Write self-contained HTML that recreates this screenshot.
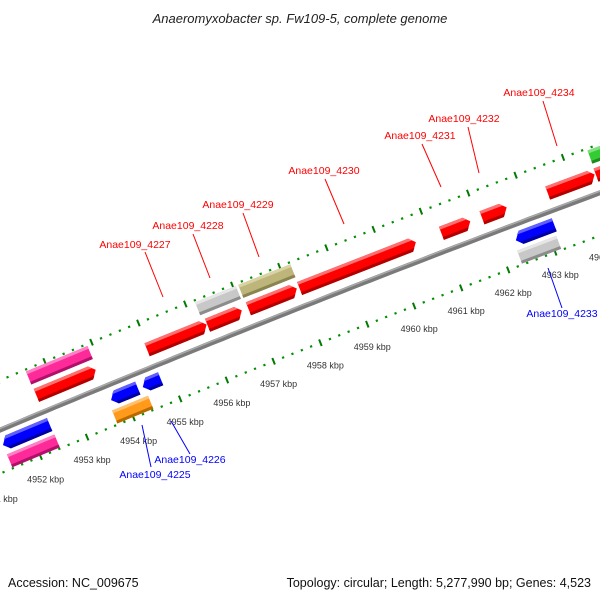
<!DOCTYPE html>
<html><head><meta charset="utf-8"><style>
body{margin:0;background:#fff}
svg{display:block;font-family:"Liberation Sans",sans-serif}
</style></head><body>
<svg id="chart" width="600" height="600" viewBox="0 0 600 600" xmlns="http://www.w3.org/2000/svg">
<rect width="600" height="600" fill="#fff"/>
<text x="300" y="23" text-anchor="middle" font-size="13" font-style="italic" fill="#222">Anaeromyxobacter sp. Fw109-5, complete genome</text>
<g id="track"></g>
<text x="8" y="587" font-size="12.5" fill="#111">Accession: NC_009675</text>
<text x="591" y="587" text-anchor="end" font-size="12.5" fill="#111">Topology: circular; Length: 5,277,990 bp; Genes: 4,523</text>
</svg>
<script>
// data
const tickKbp = [4951,4952,4953,4954,4955,4956,4957,4958,4959,4960,4961,4962,4963,4964,4965];
const tickLabels = ["4951 kbp","4952 kbp","4953 kbp","4954 kbp","4955 kbp","4956 kbp","4957 kbp","4958 kbp","4959 kbp","4960 kbp","4961 kbp","4962 kbp","4963 kbp","4964 kbp","4965 kbp"];
const geneStart = [4952.39,4954.76,4956.05,4956.92,4958.01,4961.02,4961.88,4963.27,4964.29, 4952.38,4955.99,4956.91,4964.30, 4951.4,4953.72,4954.40,4962.35, 4951.4,4953.66,4962.30];
const geneEnd   = [4953.67,4956.04,4956.79,4957.96,4960.49,4961.64,4962.41,4964.27,4965.2, 4953.70,4956.86,4958.02,4965.2, 4952.41,4954.30,4954.79,4963.17, 4952.42,4954.43,4963.13];
const geneRow   = [0,0,0,0,0,0,0,0,0, 1,1,1,1, 2,2,2,2, 3,3,3];
const geneStrand= [1,1,1,1,1,1,1,1,1, 0,0,0,0, -1,-1,-1,-1, 0,0,0];
const geneColor = ["red","red","red","red","red","red","red","red","red","pink","gray","olive","green","blue","blue","blue","blue","pink","orange","gray"];
const labelText = ["Anae109_4227","Anae109_4228","Anae109_4229","Anae109_4230","Anae109_4231","Anae109_4232","Anae109_4234","Anae109_4233","Anae109_4226","Anae109_4225"];
const labelX = [135,188,238,324,420,464,539,562,190,155];
const labelY = [248,229,208,174,139,122,96,317,463,478];
const labelLine = [[145,252,163,297],[193,234,210,278],[243,213,259,257],[325,179,344,224],[422,144,441,187],[468,127,479,173],[543,101,557,146],[562,308,548,268],[190,454,171,421],[151,467,142,425]];
const labelSide = ["r","r","r","r","r","r","r","b","b","b"];

const svgNS="http://www.w3.org/2000/svg";
const track=document.getElementById('track');
const R=14900, C=[5781,14168], r0=[-0.388,-0.922];
const S0=128.4, KS=50.47;
const rowV=[-18,-37,14,32];
function sOf(k){return S0+(k-4954)*KS;}
function pt(s,v){const t=s/R,c=Math.cos(t),sn=Math.sin(t);const rx=r0[0]*c-r0[1]*sn, ry=r0[0]*sn+r0[1]*c;return [C[0]+(R-v)*rx, C[1]+(R-v)*ry];}
function ang(s){const a=pt(s,0),b=pt(s+1,0);return Math.atan2(b[1]-a[1],b[0]-a[0])*180/Math.PI;}
function mk(tag,attrs,parent){const e=document.createElementNS(svgNS,tag);for(const k in attrs)e.setAttribute(k,attrs[k]);(parent||track).appendChild(e);return e;}
const pal={red:["#ff0000","#ff7070","#b00000"],pink:["#ff2a9a","#ff80c4","#b0106a"],gray:["#c8c8c8","#e6e6e6","#8c8c8c"],olive:["#bdb57a","#d8d2a4","#8a8450"],green:["#33cc33","#80e080","#1f8a1f"],blue:["#0000ff","#6060ff","#0000a0"],orange:["#ff9a1a","#ffc070","#b86a00"]};

// dotted scale lines
function scale(v, majorOff, name){
  for(let k=4950;k<=4966;k+=0.2){
    const kk=Math.round(k*10)/10;
    const frac=((kk-majorOff)%1+1)%1;
    const s=sOf(kk), p=pt(s,v), a=ang(s);
    const g=mk('g',{transform:`translate(${p[0].toFixed(1)},${p[1].toFixed(1)}) rotate(${a.toFixed(2)})`});
    if(frac<0.05||frac>0.95){
      const r=mk('rect',{x:-1,y:-3.5,width:2,height:7,fill:'#007a00'},g);
      
      
    } else {
      const r=mk('rect',{x:-1,y:-1,width:2.2,height:2.2,fill:'#009000'},g);
      
      
    }
  }
}
scale(-46,0.8,'upper-scale');
scale(40,0,'lower-scale');

// tick labels
tickKbp.forEach((k,i)=>{
  const p=pt(sOf(k),40);
  if(p[0]<-20||p[0]>620)return;
  const t=mk('text',{x:(p[0]+5).toFixed(1),y:(p[1]+26).toFixed(1),'text-anchor':'middle','font-size':'9','fill':'#333'});
  t.textContent=tickLabels[i];
  
  
});

// backbone
{
  let d='',d2='';
  for(let s=-40;s<=720;s+=10){const p=pt(s,0),q=pt(s,-1.5);d+=(s===-40?'M':'L')+p[0].toFixed(1)+','+p[1].toFixed(1);d2+=(s===-40?'M':'L')+q[0].toFixed(1)+','+q[1].toFixed(1);}
  const b=mk('path',{d:d,stroke:'#7a7a7a','stroke-width':5,fill:'none'});
  
  
  const b2=mk('path',{d:d2,stroke:'#aaaaaa','stroke-width':1.5,fill:'none'});
  
  
}

// genes
geneStart.forEach((k0,i)=>{
  const s0=sOf(k0), s1=sOf(geneEnd[i]), L=s1-s0, v=rowV[geneRow[i]];
  const p=pt(s0,v), a=ang((s0+s1)/2);
  const g=mk('g',{transform:`translate(${p[0].toFixed(1)},${p[1].toFixed(1)}) rotate(${a.toFixed(2)})`});
  
  
  const c=pal[geneColor[i]], h=7, tip=6, st=geneStrand[i];
  let body, top, bot;
  if(st===1){
    body=`0,${-h} ${L-tip},${-h} ${L},${-1} ${L-tip},${h} 0,${h}`;
    top=`0,${-h} ${L-tip},${-h} ${L-tip*0.5},${-h+3} 0,${-h+3}`;
    bot=`0,${h-3} ${L-tip*0.6},${h-3} ${L-tip},${h} 0,${h}`;
  } else if(st===-1){
    body=`${tip},${-h} ${L},${-h} ${L},${h} ${tip},${h} 0,${1}`;
    top=`${tip},${-h} ${L},${-h} ${L},${-h+3} ${tip*0.5},${-h+3}`;
    bot=`${tip*0.6},${h-3} ${L},${h-3} ${L},${h} ${tip},${h}`;
  } else {
    body=`0,${-h} ${L},${-h} ${L},${h} 0,${h}`;
    top=`0,${-h} ${L},${-h} ${L},${-h+3} 0,${-h+3}`;
    bot=`0,${h-3} ${L},${h-3} ${L},${h} 0,${h}`;
  }
  mk('polygon',{points:body,fill:c[0]},g);
  mk('polygon',{points:top,fill:c[1]},g);
  mk('polygon',{points:bot,fill:c[2]},g);
});

// labels
labelText.forEach((txt,i)=>{
  const col=labelSide[i]==='r'?'#ff0000':'#0000ff';
  const l=labelLine[i];
  const ln=mk('line',{x1:l[0],y1:l[1],x2:l[2],y2:l[3],stroke:col,'stroke-width':1});
  
  
  const t=mk('text',{x:labelX[i],y:labelY[i],'text-anchor':'middle','font-size':'10.5',fill:col});
  t.textContent=txt;
  
  
});
</script>
</body></html>
